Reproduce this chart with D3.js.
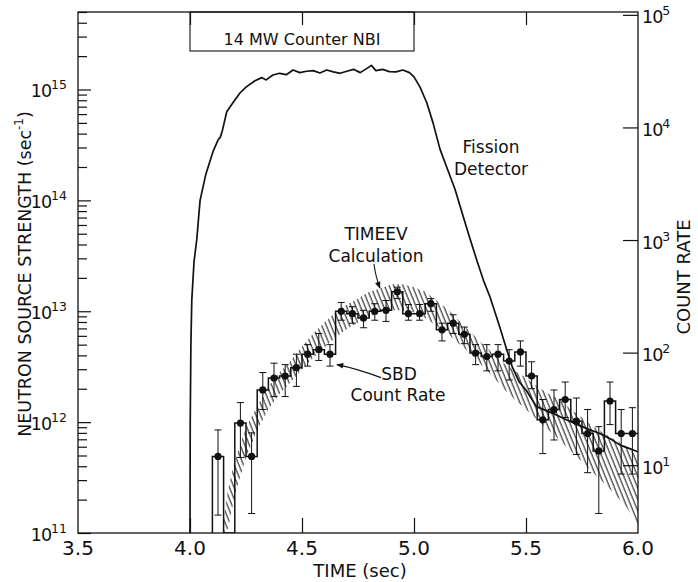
<!DOCTYPE html>
<html>
<head>
<meta charset="utf-8">
<script src="https://cdn.jsdelivr.net/npm/d3@7"></script>
<style>
  body { margin: 0; background: #fff; }
  svg text { font-family: "DejaVu Sans", sans-serif; fill: #111; }
</style>
</head>
<body>
<div id="wrapper"></div>
<script>
// axis ticks
const xTicks = [3.5, 4.0, 4.5, 5.0, 5.5, 6.0]
const xInnerTicks = [4.0, 4.5, 5.0, 5.5]
const leftTicks = [1e11, 1e12, 1e13, 1e14, 1e15]
const rightTicks = [1e1, 1e2, 1e3, 1e4, 1e5]
const nbiWindow = [4.0, 5.0]

// fission detector trace (sec^-1)
const fissionTime = [4.000, 4.001, 4.004, 4.008, 4.018, 4.030, 4.045, 4.070, 4.104, 4.125,
  4.135, 4.145, 4.164, 4.190, 4.223, 4.250, 4.290, 4.320, 4.340, 4.370,
  4.400, 4.430, 4.460, 4.490, 4.520, 4.550, 4.580, 4.610, 4.640, 4.670,
  4.700, 4.730, 4.760, 4.790, 4.810, 4.830, 4.860, 4.890, 4.920, 4.950,
  4.980, 5.000, 5.027, 5.057, 5.085, 5.116, 5.150, 5.183, 5.220, 5.250,
  5.280, 5.310, 5.339, 5.380, 5.414, 5.440, 5.470, 5.500, 5.547, 5.620,
  5.680, 5.730, 5.780, 5.830, 5.880, 5.920, 5.960, 6.000]
const fissionValue = [1.0e11, 1.0e12, 5.0e12, 1.26e13, 2.8e13, 4.4e13, 1.0e14, 1.7e14, 2.8e14, 3.5e14,
  3.7e14, 4.3e14, 6.3e14, 7.5e14, 9.3e14, 1.05e15, 1.2e15, 1.28e15, 1.22e15, 1.35e15,
  1.4e15, 1.36e15, 1.5e15, 1.42e15, 1.46e15, 1.48e15, 1.41e15, 1.5e15, 1.44e15, 1.4e15,
  1.46e15, 1.52e15, 1.42e15, 1.55e15, 1.65e15, 1.48e15, 1.52e15, 1.45e15, 1.44e15, 1.5e15,
  1.42e15, 1.3e15, 1.05e15, 7.6e14, 5.0e14, 2.9e14, 1.9e14, 1.26e14, 7.1e13, 4.5e13,
  2.9e13, 1.9e13, 1.35e13, 7.5e12, 4.5e12, 3.1e12, 2.3e12, 1.95e12, 1.38e12, 1.2e12,
  1.05e12, 9.5e11, 8.6e11, 7.9e11, 7.0e11, 6.2e11, 5.8e11, 5.4e11]

// TIMEEV calculation band
const bandTime = [4.15, 4.17, 4.20, 4.25, 4.30, 4.35, 4.40, 4.45, 4.50, 4.55,
  4.60, 4.65, 4.70, 4.75, 4.80, 4.85, 4.90, 4.95, 5.00, 5.05,
  5.10, 5.15, 5.20, 5.25, 5.30, 5.35, 5.40, 5.45, 5.50, 5.55,
  5.60, 5.65, 5.70, 5.75, 5.80, 5.85, 5.90, 5.95, 6.00]
const bandLow = [1.0e11, 1.1e11, 2.2e11, 4.8e11, 8.5e11, 1.3e12, 1.8e12, 2.3e12, 3.0e12, 3.8e12,
  4.7e12, 5.8e12, 6.9e12, 7.9e12, 8.9e12, 9.8e12, 1.02e13, 1.02e13, 9.8e12, 8.7e12,
  7.4e12, 6.3e12, 5.1e12, 4.2e12, 3.3e12, 2.6e12, 2.0e12, 1.6e12, 1.3e12, 1.05e12,
  8.5e11, 6.9e11, 5.5e11, 4.4e11, 3.5e11, 2.8e11, 2.2e11, 1.7e11, 1.15e11]
const bandHigh = [1.3e11, 2.5e11, 4.5e11, 8.9e11, 1.4e12, 2.1e12, 2.8e12, 3.6e12, 4.8e12, 6.3e12,
  7.9e12, 9.8e12, 1.15e13, 1.3e13, 1.5e13, 1.6e13, 1.75e13, 1.75e13, 1.65e13, 1.5e13,
  1.25e13, 1.05e13, 8.3e12, 6.6e12, 5.2e12, 4.2e12, 3.4e12, 2.9e12, 2.5e12, 2.1e12,
  1.8e12, 1.6e12, 1.3e12, 1.1e12, 9.1e11, 7.9e11, 6.9e11, 6.0e11, 4.9e11]

// SBD count rate, 50 ms bins (bin centres)
const sbdBinWidth = 0.05
const sbdTime = [4.125, 4.175, 4.225, 4.275, 4.325, 4.375, 4.425, 4.475, 4.525, 4.575,
  4.625, 4.675, 4.725, 4.775, 4.825, 4.875, 4.925, 4.975, 5.025, 5.075,
  5.125, 5.175, 5.225, 5.275, 5.325, 5.375, 5.425, 5.475, 5.525, 5.575,
  5.625, 5.675, 5.725, 5.775, 5.825, 5.875, 5.925, 5.975]
const sbdValue = [4.9e11, null, 9.8e11, 4.9e11, 1.95e12, 2.5e12, 2.6e12, 3.1e12, 4.1e12, 4.5e12,
  4.1e12, 1.0e13, 9.5e12, 8.7e12, 1.0e13, 1.02e13, 1.5e13, 9.5e12, 9.5e12, 1.17e13,
  6.8e12, 7.8e12, 6.2e12, 4.2e12, 3.9e12, 4.1e12, 3.55e12, 4.3e12, 2.6e12, 1.05e12,
  1.3e12, 1.6e12, 1.02e12, 7.9e11, 5.5e11, 1.55e12, 7.9e11, 7.9e11]
const sbdHigh = [8.5e11, null, 1.5e12, 8.0e11, 2.8e12, 3.4e12, 3.3e12, 4.1e12, 5.0e12, 6.3e12,
  5.0e12, 1.2e13, 1.1e13, 1.02e13, 1.17e13, 1.25e13, 1.65e13, 1.15e13, 1.15e13, 1.3e13,
  7.8e12, 9.3e12, 7.2e12, 5.0e12, 5.0e12, 5.0e12, 4.5e12, 5.4e12, 3.5e12, 1.6e12,
  1.95e12, 2.3e12, 1.65e12, 1.3e12, 9.1e11, 2.3e12, 1.3e12, 1.35e12]
const sbdLow = [1.45e11, null, 4.8e11, 1.5e11, 1.3e12, 1.7e12, 1.7e12, 2.1e12, 3.2e12, 3.6e12,
  3.2e12, 8.3e12, 7.8e12, 7.1e12, 8.3e12, 8.1e12, 1.3e13, 8.3e12, 8.3e12, 1.0e13,
  5.4e12, 6.3e12, 5.1e12, 3.3e12, 2.9e12, 2.9e12, 2.4e12, 3.2e12, 2.0e12, 5.2e11,
  6.9e11, 1.1e12, 5.1e11, 3.5e11, 1.5e11, 9.5e11, 3.4e11, 3.4e11]

// annotation arrow tips (time, sec^-1)
const calcArrowTip = [4.848, 1.62e13]
const sbdArrowTip = [4.656, 3.3e12]

function drawChart() {
  let dimensions = {
    width: 698,
    height: 582,
    margin: { top: 12, right: 60, bottom: 49, left: 78 },
  }
  dimensions.boundedWidth = dimensions.width - dimensions.margin.left - dimensions.margin.right
  dimensions.boundedHeight = dimensions.height - dimensions.margin.top - dimensions.margin.bottom
  const W = dimensions.boundedWidth
  const H = dimensions.boundedHeight

  const wrapper = d3.select("#wrapper")
    .append("svg")
      .attr("width", dimensions.width)
      .attr("height", dimensions.height)

  const defs = wrapper.append("defs")
  defs.append("clipPath").attr("id", "plot-clip")
    .append("rect").attr("width", W).attr("height", H)
  const hatch = defs.append("pattern")
      .attr("id", "hatch")
      .attr("patternUnits", "userSpaceOnUse")
      .attr("width", 4.3)
      .attr("height", 10)
      .attr("patternTransform", "rotate(-22)")
  hatch.append("line")
      .attr("x1", 1).attr("y1", 0).attr("x2", 1).attr("y2", 10)
      .attr("stroke", "#111").attr("stroke-width", 1)
  defs.append("marker")
      .attr("id", "arrow")
      .attr("viewBox", "0 0 10 10")
      .attr("refX", 9).attr("refY", 5)
      .attr("markerWidth", 9).attr("markerHeight", 7)
      .attr("markerUnits", "userSpaceOnUse")
      .attr("orient", "auto")
    .append("path")
      .attr("d", "M0,1 L10,5 L0,9 Z")
      .attr("fill", "#111")

  const bounds = wrapper.append("g")
      .attr("transform", `translate(${dimensions.margin.left},${dimensions.margin.top})`)

  // scales
  const xScale = d3.scaleLinear().domain([3.5, 6.0]).range([0, W])
  const yScale = d3.scaleLog().domain([1e11, 5e15]).range([H, 0])
  const yRightScale = d3.scaleLog().domain([2.5, 1.06e5]).range([H, 0])

  const plot = bounds.append("g").attr("clip-path", "url(#plot-clip)")

  // calculation band
  const band = bandTime.map((t, i) => ({ t, lo: bandLow[i], hi: bandHigh[i] }))
  const bandArea = d3.area()
      .x(d => xScale(d.t))
      .y0(d => yScale(d.lo))
      .y1(d => yScale(d.hi))
  plot.append("path")
      .attr("d", bandArea(band))
      .attr("fill", "url(#hatch)")

  // fission detector
  const fission = fissionTime.map((t, i) => ({ t, v: fissionValue[i] }))
  const fissionLine = d3.line()
      .x(d => xScale(d.t))
      .y(d => yScale(d.v))
  plot.append("path")
      .attr("d", fissionLine(fission))
      .attr("fill", "none")
      .attr("stroke", "#111")
      .attr("stroke-width", 1.7)
      .attr("stroke-linejoin", "round")

  // SBD histogram
  const base = yScale.domain()[0]
  const steps = [[sbdTime[0] - sbdBinWidth / 2, base]]
  sbdTime.forEach((t, i) => {
    const v = sbdValue[i] === null ? base : sbdValue[i]
    steps.push([t - sbdBinWidth / 2, v])
    steps.push([t + sbdBinWidth / 2, v])
  })
  const stepLine = d3.line()
      .x(d => xScale(d[0]))
      .y(d => yScale(d[1]))
  plot.append("path")
      .attr("d", stepLine(steps))
      .attr("fill", "none")
      .attr("stroke", "#111")
      .attr("stroke-width", 1.5)

  const sbd = sbdTime.map((t, i) => ({ t, v: sbdValue[i], lo: sbdLow[i], hi: sbdHigh[i] }))
    .filter(d => d.v !== null)
  const errs = plot.append("g").attr("stroke", "#111").attr("stroke-width", 1)
  errs.selectAll(".err")
    .data(sbd)
    .join("path")
      .attr("class", "err")
      .attr("fill", "none")
      .attr("d", d => {
        const x = xScale(d.t)
        const y0 = yScale(d.lo)
        const y1 = yScale(d.hi)
        return `M${x},${y0}V${y1}M${x - 3.5},${y1}H${x + 3.5}M${x - 3.5},${y0}H${x + 3.5}`
      })
  plot.selectAll(".dot")
    .data(sbd)
    .join("circle")
      .attr("class", "dot")
      .attr("cx", d => xScale(d.t))
      .attr("cy", d => yScale(d.v))
      .attr("r", 3.6)
      .attr("fill", "#111")

  // axes
  const leftMinor = yScale.ticks().filter(v => !leftTicks.includes(v))
  bounds.append("g")
    .call(d3.axisLeft(yScale).tickValues(leftMinor).tickSizeInner(-9).tickSizeOuter(0).tickFormat(""))
  const leftAxis = bounds.append("g")
    .call(d3.axisLeft(yScale).tickValues(leftTicks).tickSizeInner(-13).tickSizeOuter(0).tickFormat(""))
  const rightAxis = bounds.append("g")
      .attr("transform", `translate(${W},0)`)
    .call(d3.axisRight(yRightScale).tickValues(rightTicks).tickSizeInner(-15).tickSizeOuter(0).tickFormat(""))
  bounds.append("g")
      .attr("transform", `translate(0,${H})`)
    .call(d3.axisBottom(xScale).tickValues(xInnerTicks).tickSizeInner(-15).tickSizeOuter(0).tickFormat(""))
  bounds.append("g")
    .call(d3.axisTop(xScale).tickValues(xInnerTicks).tickSizeInner(-13).tickSizeOuter(0).tickFormat(""))
  bounds.selectAll(".domain").remove()
  bounds.selectAll(".tick line").attr("stroke", "#111").attr("stroke-width", 1.2)

  function powerLabel(text, exp) {
    text.append("tspan").attr("letter-spacing", -1).text("10")
    text.append("tspan").attr("dy", -8).attr("font-size", 12.5).text(exp)
  }
  leftAxis.selectAll(".tick").append("text")
      .attr("x", -11).attr("y", 7.5)
      .attr("text-anchor", "end")
      .attr("font-size", 17.5)
      .each(function(d) { powerLabel(d3.select(this), Math.round(Math.log10(d))) })
  rightAxis.selectAll(".tick").append("text")
      .attr("x", 4).attr("y", 8)
      .attr("text-anchor", "start")
      .attr("font-size", 17.5)
      .each(function(d) { powerLabel(d3.select(this), Math.round(Math.log10(d))) })

  bounds.append("g").selectAll("text")
    .data(xTicks)
    .join("text")
      .attr("x", d => xScale(d))
      .attr("y", H + 22)
      .attr("text-anchor", "middle")
      .attr("font-size", 20)
      .text(d3.format(".1f"))

  // frame
  bounds.append("rect")
      .attr("width", W).attr("height", H)
      .attr("fill", "none")
      .attr("stroke", "#111")
      .attr("stroke-width", 1.3)

  // axis titles
  bounds.append("text")
      .attr("x", 282).attr("y", H + 44)
      .attr("text-anchor", "middle")
      .attr("font-size", 18)
      .text("TIME (sec)")
  const yLabel = bounds.append("text")
      .attr("transform", `translate(${-47},${262}) rotate(-90)`)
      .attr("text-anchor", "middle")
      .attr("font-size", 17.5)
  yLabel.append("tspan").text("NEUTRON SOURCE STRENGTH (sec")
  yLabel.append("tspan").attr("dy", -8).attr("font-size", 12).text("-1")
  yLabel.append("tspan").attr("dy", 8).text(")")
  bounds.append("text")
      .attr("transform", `translate(${W + 52},${265}) rotate(-90)`)
      .attr("text-anchor", "middle")
      .attr("font-size", 18)
      .text("COUNT RATE")

  // NBI window
  bounds.append("rect")
      .attr("x", xScale(nbiWindow[0]))
      .attr("width", xScale(nbiWindow[1]) - xScale(nbiWindow[0]))
      .attr("height", 39)
      .attr("fill", "none")
      .attr("stroke", "#111")
      .attr("stroke-width", 1.1)
  bounds.append("text")
      .attr("x", xScale(d3.mean(nbiWindow)))
      .attr("y", 33)
      .attr("text-anchor", "middle")
      .attr("font-size", 16)
      .text("14 MW Counter NBI")

  // annotations
  const notes = [
    { x: 413, y: 141, text: "Fission" },
    { x: 413, y: 163, text: "Detector" },
    { x: 298, y: 228, text: "TIMEEV" },
    { x: 298, y: 250, text: "Calculation" },
    { x: 321, y: 368, text: "SBD" },
    { x: 320, y: 389, text: "Count Rate" },
  ]
  bounds.append("g").selectAll("text")
    .data(notes)
    .join("text")
      .attr("x", d => d.x)
      .attr("y", d => d.y)
      .attr("text-anchor", "middle")
      .attr("font-size", 17)
      .text(d => d.text)

  const calcTip = [xScale(calcArrowTip[0]), yScale(calcArrowTip[1])]
  bounds.append("path")
      .attr("d", `M${calcTip[0] - 6},${calcTip[1] - 24}Q${calcTip[0] - 4},${calcTip[1] - 10} ${calcTip[0]},${calcTip[1]}`)
      .attr("fill", "none")
      .attr("stroke", "#111")
      .attr("stroke-width", 1.1)
      .attr("marker-end", "url(#arrow)")
  const sbdTip = [xScale(sbdArrowTip[0]), yScale(sbdArrowTip[1])]
  bounds.append("path")
      .attr("d", `M${sbdTip[0] + 44},${sbdTip[1] + 13}Q${sbdTip[0] + 20},${sbdTip[1] + 4} ${sbdTip[0]},${sbdTip[1]}`)
      .attr("fill", "none")
      .attr("stroke", "#111")
      .attr("stroke-width", 1.1)
      .attr("marker-end", "url(#arrow)")
}
drawChart()
</script>
</body>
</html>
